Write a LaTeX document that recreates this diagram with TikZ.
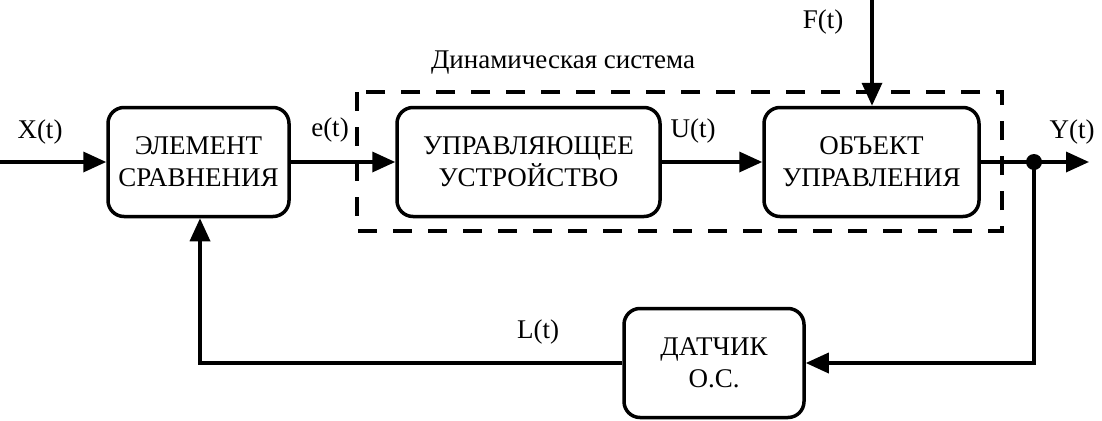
\documentclass[tikz,border=0pt]{standalone}
\usepackage{fontspec}
\setmainfont{Liberation Serif}
\usetikzlibrary{arrows.meta,positioning}
\begin{document}
\begin{tikzpicture}[x=1pt,y=-1pt,
  blk/.style={draw,line width=3.5pt,rounded corners=16pt,align=center,inner sep=0pt,
    font=\fontsize{27}{32}\selectfont},
  conn/.style={line width=3.5pt,-{Triangle[length=23pt,width=20pt]}},
  lbl/.style={font=\fontsize{27}{32}\selectfont,inner sep=0pt},
  dbox/.style={line width=3.5pt,dash pattern=on 19pt off 16pt}]
\useasboundingbox (0,0) rectangle (1102,420);
\node[blk,minimum width=181pt,minimum height=109pt] (es) at (198.5,162) {ЭЛЕМЕНТ\\СРАВНЕНИЯ};
\node[blk,minimum width=263pt,minimum height=109pt] (uu) at (528.5,162) {УПРАВЛЯЮЩЕЕ\\УСТРОЙСТВО};
\node[blk,minimum width=215pt,minimum height=109pt] (ou) at (871.5,162) {ОБЪЕКТ\\УПРАВЛЕНИЯ};
\node[blk,minimum width=180pt,minimum height=109pt] (ds) at (714,363) {ДАТЧИК\\О.С.};
\draw[dbox] (357,92) rectangle (1002,231);
\node[lbl] (dyn) at (563,63) {Динамическая система};
\coordinate (xin) at (0,162);
\coordinate (ftop) at (872,0);
\coordinate (yout) at (1089,162);
\coordinate (dot) at (1034,162);
\coordinate (fbr) at (1034,363);
\coordinate (fbl) at (200,363);
\draw[conn] (xin) -- (es.west);
\draw[conn] (es.east) -- (uu.west);
\draw[conn] (uu.east) -- (ou.west);
\draw[conn] (ftop) -- (ou.north -| ftop);
\draw[conn] (ou.east) -- (yout);
\draw[conn] (dot) -- (fbr) -- (ds.east);
\draw[conn] (ds.west) -- (fbl) -- (es.south -| fbl);
\fill (dot) circle (8pt);
\node[lbl] (xl) at (40,132) {X(t)};
\node[lbl] (el) at (330,130) {e(t)};
\node[lbl] (ul) at (693,131) {U(t)};
\node[lbl] (yl) at (1072,132) {Y(t)};
\node[lbl] (fl) at (823,22) {F(t)};
\node[lbl] (ll) at (538,332) {L(t)};
\end{tikzpicture}
\end{document}
